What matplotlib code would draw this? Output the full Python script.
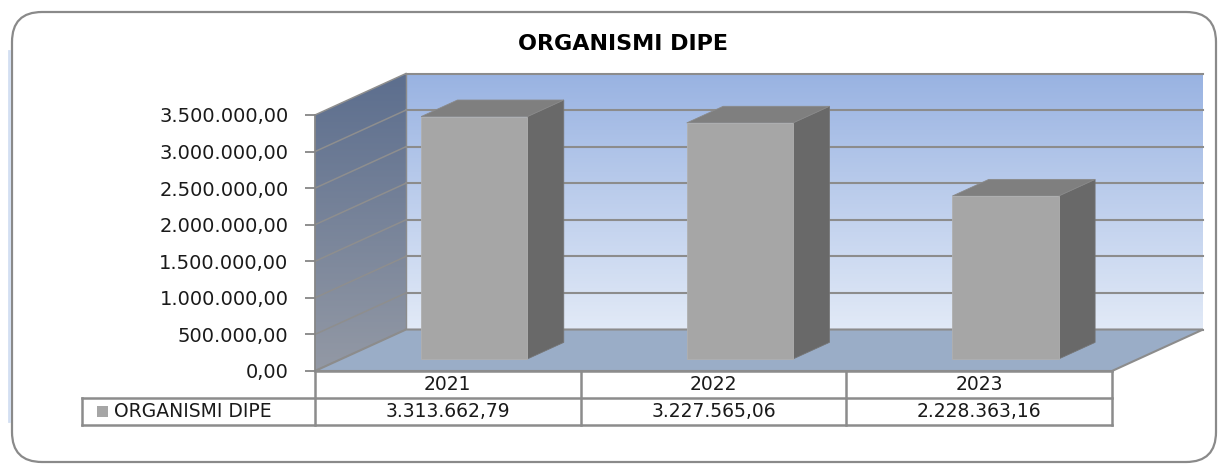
import numpy as np
import matplotlib
matplotlib.use('Agg')
import matplotlib.pyplot as plt
from matplotlib.patches import Polygon, Rectangle, FancyBboxPatch
from matplotlib.colors import LinearSegmentedColormap
from matplotlib.transforms import IdentityTransform
from matplotlib.lines import Line2D

# data
title = 'ORGANISMI DIPE'
series = 'ORGANISMI DIPE'
years = ['2021', '2022', '2023']
values = [3313662.79, 3227565.06, 2228363.16]
yticks = [0, 500000, 1000000, 1500000, 2000000, 2500000, 3000000, 3500000]
ymax = 3500000


def it_fmt(v):
    s = '{:,.2f}'.format(v)
    return s.replace(',', 'X').replace('.', ',').replace('X', '.')


W, H = 1226, 466
fig = plt.figure(figsize=(W / 100, H / 100), dpi=100)
fig.patch.set_facecolor('white')

# rounded outer frame
frame = FancyBboxPatch((12, 4), 1204, 450, boxstyle='round,pad=0,rounding_size=30',
                       transform=IdentityTransform(), facecolor='white',
                       edgecolor='#8a8a8a', linewidth=1.6, zorder=0)
fig.add_artist(frame)
fig.add_artist(Line2D([9, 9], [45, 415], transform=IdentityTransform(),
                      color='#d3dff2', linewidth=2, zorder=0))

# front plane of the 3d box
ax = fig.add_axes([315 / W, 95 / H, 797 / W, 256 / H])
ax.patch.set_visible(False)
n = len(years)

# depth projection (z from 0 = front to 1 = back wall)
kx = 0.3425
ky = 0.162 * ymax


def proj(x, y, z):
    return (x + z * kx, y + z * ky)


def grad_fill(pts, c_top, c_bot, zorder):
    poly = Polygon(pts, closed=True, facecolor='none', edgecolor='none', clip_on=False)
    ax.add_patch(poly)
    xs = [p[0] for p in pts]
    ys = [p[1] for p in pts]
    cmap = LinearSegmentedColormap.from_list('g', [c_bot, c_top])
    grad = np.linspace(0, 1, 256).reshape(-1, 1)
    im = ax.imshow(grad, cmap=cmap, origin='lower', aspect='auto',
                   extent=(min(xs), max(xs), min(ys), max(ys)), zorder=zorder)
    im.set_clip_path(poly)
    im.set_clip_box(fig.bbox)


x0, x1 = -0.5, n - 0.5

# back wall
back = [proj(x0, 0, 1), proj(x1, 0, 1), proj(x1, ymax, 1), proj(x0, ymax, 1)]
grad_fill(back, '#99b3e2', '#e2eaf7', 1)
# side wall
side = [proj(x0, 0, 0), proj(x0, 0, 1), proj(x0, ymax, 1), proj(x0, ymax, 0)]
grad_fill(side, '#5c6e8e', '#9399a5', 1)

# gridlines
for t in yticks:
    a, b = proj(x0, t, 1), proj(x1, t, 1)
    ax.plot([a[0], b[0]], [a[1], b[1]], color='#8c8c8c', lw=1.5, clip_on=False, zorder=2)
    c = proj(x0, t, 0)
    ax.plot([c[0], a[0]], [c[1], a[1]], color='#8e8e8e', lw=1.1, clip_on=False, zorder=2)
ax.plot([proj(x0, 0, 1)[0]] * 2, [proj(x0, 0, 1)[1], proj(x0, ymax, 1)[1]],
        color='#8c8c8c', lw=1.0, clip_on=False, zorder=2)

# floor
floor = [proj(x0, 0, 0), proj(x1, 0, 0), proj(x1, 0, 1), proj(x0, 0, 1)]
ax.add_patch(Polygon(floor, closed=True, facecolor='#9aadc7', edgecolor='#8c8c8c',
                     lw=1.5, clip_on=False, zorder=3))

# bars
w = 0.4
z0, z1 = 0.29, 0.69
xs = np.arange(n)
for i, v in enumerate(values):
    xl, xr = xs[i] - w / 2, xs[i] + w / 2
    s = [proj(xr, 0, z0), proj(xr, 0, z1), proj(xr, v, z1), proj(xr, v, z0)]
    tp = [proj(xl, v, z0), proj(xr, v, z0), proj(xr, v, z1), proj(xl, v, z1)]
    ax.add_patch(Polygon(s, closed=True, facecolor='#696969', edgecolor='#757575',
                         lw=0.6, clip_on=False, zorder=4))
    ax.add_patch(Polygon(tp, closed=True, facecolor='#7f7f7f', edgecolor='#8a8a8a',
                         lw=0.6, clip_on=False, zorder=4))
ax.bar(xs + z0 * kx, values, width=w, bottom=z0 * ky, color='#a6a6a6',
       edgecolor='#b0b0b0', linewidth=0.6, zorder=5, clip_on=False)

ax.set_xlim(x0, x1)
ax.set_ylim(0, ymax)

# axis
for sp in ['top', 'right', 'bottom']:
    ax.spines[sp].set_visible(False)
ax.spines['left'].set_color('#868686')
ax.spines['left'].set_linewidth(1.3)
ax.spines['left'].set_zorder(6)
ax.set_xticks([])
ax.set_yticks(yticks)
ax.set_yticklabels([it_fmt(t) for t in yticks])
ax.tick_params(axis='y', length=7, width=1.3, color='#868686', pad=12,
               labelsize=14, labelcolor='#1a1a1a')

# data table under the chart
h = 27 / 256
lab_left = (82 - 315) / 797
lc = '#8c8c8c'
edges = np.linspace(0, 1, n + 1)
tkw = dict(transform=ax.transAxes, color=lc, lw=1.8, clip_on=False, zorder=6)
ax.plot([0, 1], [0, 0], **tkw)
ax.plot([lab_left, 1], [-h, -h], **tkw)
ax.plot([lab_left, 1], [-2 * h, -2 * h], **tkw)
for e in edges:
    ax.plot([e, e], [0, -2 * h], **tkw)
ax.plot([lab_left, lab_left], [-h, -2 * h], **tkw)
for i in range(n):
    cx = (edges[i] + edges[i + 1]) / 2
    ax.text(cx, -0.5 * h, years[i], transform=ax.transAxes, ha='center', va='center',
            fontsize=13.5, color='#1a1a1a')
    ax.text(cx, -1.5 * h, it_fmt(values[i]), transform=ax.transAxes, ha='center',
            va='center', fontsize=13.5, color='#1a1a1a')
ax.add_patch(Rectangle(((97 - 315) / 797, -1.5 * h - 0.02), 11 / 797, 0.04,
                       transform=ax.transAxes, facecolor='#a6a6a6', edgecolor='none',
                       clip_on=False))
ax.text((114 - 315) / 797, -1.5 * h, series, transform=ax.transAxes, ha='left',
        va='center', fontsize=13.5, color='#1a1a1a')

fig.text(623 / W, 1 - 44 / H, title, ha='center', va='center', fontsize=16,
         fontweight='bold', color='#000000')

fig.savefig('out.png', dpi=100)
